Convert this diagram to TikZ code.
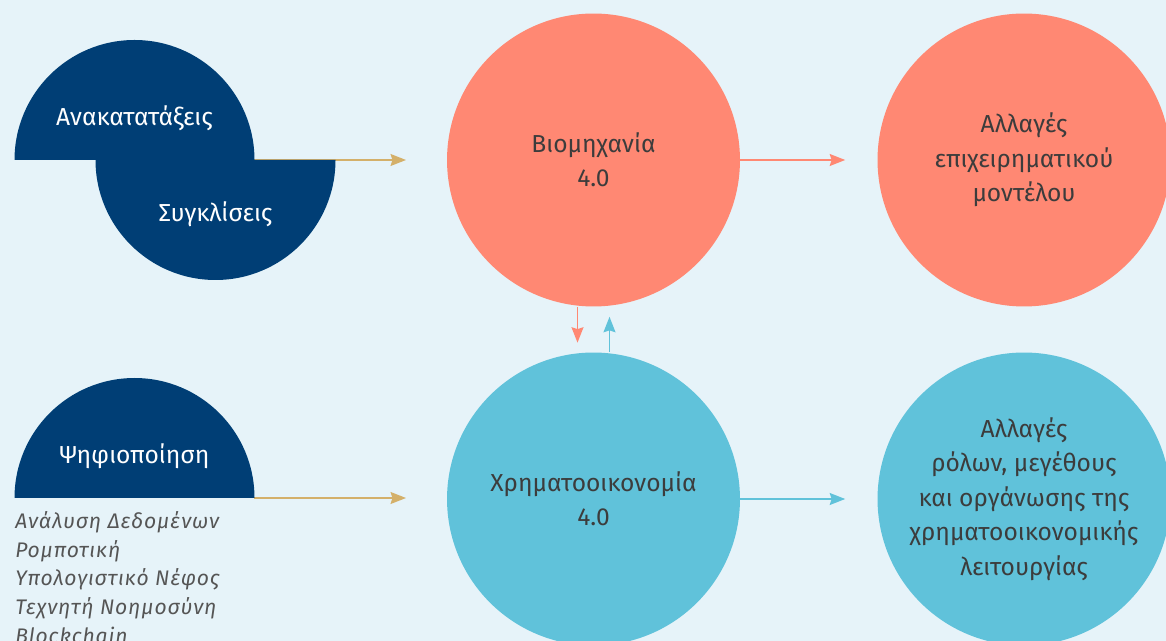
\documentclass[tikz,border=0pt]{standalone}
\usepackage{fontspec}
\setmainfont{Fira Sans}
\newfontfamily\listfont{Fira Sans}[LetterSpace=4]
\usetikzlibrary{arrows.meta}

\definecolor{bgblue}{RGB}{230,243,249}
\definecolor{navy}{RGB}{0,62,117}
\definecolor{salmon}{RGB}{255,136,115}
\definecolor{skyblue}{RGB}{96,194,218}
\definecolor{tan}{RGB}{212,176,106}
\definecolor{textgray}{RGB}{60,60,60}
\definecolor{listgray}{RGB}{85,85,85}

\begin{document}
\begin{tikzpicture}[x=0.02cm, y=-0.02cm,
    >={Stealth[length=0.31cm, width=0.24cm, inset=0.04cm]},
    bigcirc/.style={circle, minimum size=5.86cm, inner sep=0pt, align=center,
        text=textgray, font=\fontsize{14}{19.6}\selectfont},
    semilbl/.style={text=white, font=\fontsize{14}{16}\selectfont},
    conn/.style={->, line width=0.8pt}]
    % Frame of the picture
    \useasboundingbox (0,0) rectangle (1166,641);
    \clip (0,0) rectangle (1166,641);
    \fill[bgblue] (0,0) rectangle (1166,641);

    % Arrow ends on the left
    \coordinate (rearr-e) at (254,160);
    \coordinate (rearr-tip) at (406,160);
    \coordinate (digit-e) at (254,498);
    \coordinate (digit-tip) at (406,498);
    \draw[conn, tan] (rearr-e) -- (rearr-tip);
    \draw[conn, tan] (digit-e) -- (digit-tip);

    % Half discs
    \fill[navy] (14.5,160) arc[start angle=180, end angle=360, radius=120] -- cycle;
    \fill[navy] (95.5,160) arc[start angle=180, end angle=0, radius=120] -- cycle;
    \fill[navy] (14.5,498) arc[start angle=180, end angle=360, radius=120] -- cycle;
    \node[semilbl] (rearr) at (134.5,118) {Ανακατατάξεις};
    \node[semilbl] (conv) at (215.5,214) {Συγκλίσεις};
    \node[semilbl] (digit) at (134.5,456) {Ψηφιοποίηση};

    % Technologies
    \node[anchor=north west, inner sep=0pt, align=left, text=listgray,
        font=\listfont\itshape\fontsize{12}{16.4}\selectfont] (tech) at (15,511)
        {Ανάλυση Δεδομένων\\Ρομποτική\\Υπολογιστικό Νέφος\\Τεχνητή Νοημοσύνη\\Blockchain};

    % Big circles
    \node[bigcirc, fill=salmon] (industry) at (593.5,160) {Βιομηχανία\\4.0};
    \node[bigcirc, fill=salmon] (model) at (1024,160) {Αλλαγές\\επιχειρηματικού\\μοντέλου};
    \node[bigcirc, fill=skyblue] (finance) at (593.5,499) {Χρηματοοικονομία\\4.0};
    \node[bigcirc, fill=skyblue] (roles) at (1024,499)
        {Αλλαγές\\ρόλων, μεγέθους\\και οργάνωσης της\\χρηματοοικονομικής\\λειτουργίας};

    % Connectors
    \draw[conn, salmon, shorten >=0.64cm] (industry.east) -- (model.west);
    \draw[conn, skyblue, shorten >=0.64cm] (finance.east) -- (roles.west);
    \draw[conn, salmon, shorten >=0.19cm] ([xshift=-0.32cm]industry.south) -- ([xshift=-0.32cm]finance.north);
    \draw[conn, skyblue, shorten >=0.2cm] ([xshift=0.32cm]finance.north) -- ([xshift=0.32cm]industry.south);
\end{tikzpicture}
\end{document}
